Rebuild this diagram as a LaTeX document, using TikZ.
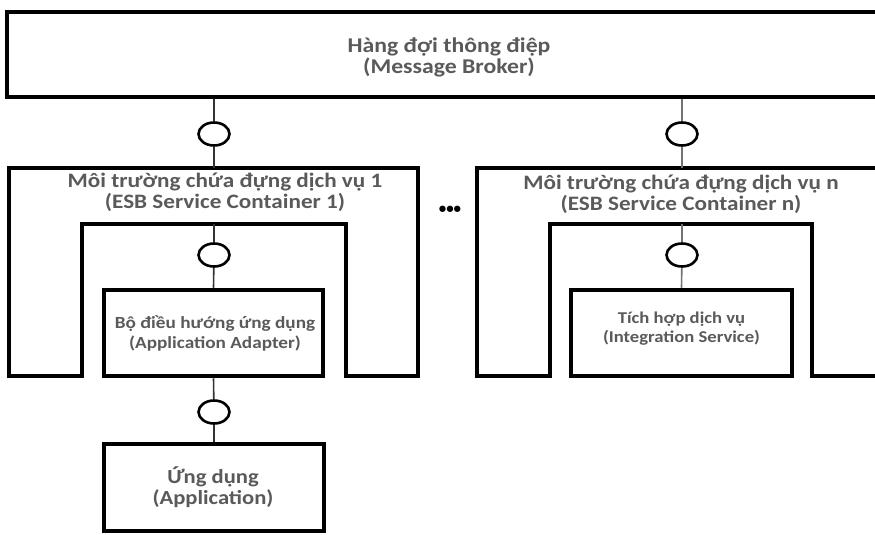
\documentclass[tikz,border=0pt]{standalone}
\usepackage{fontspec}
\setmainfont{Carlito}
\usetikzlibrary{shapes.geometric}
\definecolor{txt}{HTML}{5A5A5A}
\newcommand{\sx}[1]{\scalebox{1.13}[1]{#1}}
\tikzset{
  x=1pt, y=1pt,
  box/.style={draw=black, line width=4.5pt, fill=white, rectangle, inner sep=0pt},
  cont/.style={draw=black, line width=4.5pt, fill=white, line join=miter},
  ball/.style={ellipse, draw=black, line width=2.6pt, fill=white, minimum width=31pt, minimum height=23pt, inner sep=0pt},
  wire/.style={draw=black!80, line width=1.6pt},
  wiren/.style={draw=black!55, line width=1.6pt},
  lbl/.style={text=txt, align=center, font=\bfseries\fontsize{21}{21}\selectfont, inner sep=0pt},
  lblc/.style={lbl, font=\bfseries\fontsize{20.5}{21.5}\selectfont},
  lbls/.style={lbl, font=\bfseries\fontsize{17}{20}\selectfont},
  lbli/.style={lbl, font=\bfseries\fontsize{16.5}{19.5}\selectfont},
  lbla/.style={lbl, font=\bfseries\fontsize{20}{21}\selectfont},
}
\begin{document}
\begin{tikzpicture}
\useasboundingbox (0,0) rectangle (875,-535);
% broker
\node[box, minimum width=880pt, minimum height=85pt] (broker) at (447,-54.5) {};
\node[lbl] (brokert) at (449,-57.5) {\sx{Hàng đợi thông điệp}\\\sx{(Message Broker)}};
% container 1
\draw[cont] (9,-168) -- (418,-168) -- (418,-376) -- (346,-376) -- (346,-224) -- (82,-224) -- (82,-376) -- (9,-376) -- cycle;
\coordinate (c1top) at (214,-168);
\coordinate (c1in) at (214,-224);
\node[lblc] (c1t) at (225,-192.5) {\sx{Môi trường chứa đựng dịch vụ 1}\\\sx{(ESB Service Container 1)}};
% container n
\draw[cont] (895,-168) -- (477,-168) -- (477,-376) -- (550,-376) -- (550,-224) -- (812,-224) -- (812,-376) -- (895,-376);
\coordinate (cntop) at (682,-168);
\coordinate (cnin) at (682,-224);
\node[lblc] (cnt) at (681,-194.5) {\sx{Môi trường chứa đựng dịch vụ n}\\\sx{(ESB Service Container n)}};
% dots
\node[text=black, font=\bfseries\fontsize{15}{15}\selectfont, inner sep=0pt] (dots) at (450,-210) {•••};
% inner boxes
\node[box, minimum width=219pt, minimum height=86pt] (adapter) at (213.5,-333) {};
\node[lbls] (adaptert) at (215,-333) {\sx{Bộ điều hướng ứng dụng}\\\sx{(Application Adapter)}};
\node[box, minimum width=221pt, minimum height=86pt] (integ) at (681.5,-333) {};
\node[lbli] (integt) at (681.5,-328.5) {\sx{Tích hợp dịch vụ}\\\sx{(Integration Service)}};
\node[box, minimum width=220pt, minimum height=87pt] (app) at (214,-487.5) {};
\node[lbla] (appt) at (213,-487.5) {\sx{Ứng dụng}\\\sx{(Application)}};
% balls
\node[ball] (b1) at (214,-134) {};
\node[ball] (b2) at (214,-255) {};
\node[ball] (b3) at (214,-412) {};
\node[ball] (bn1) at (682,-134) {};
\node[ball] (bn2) at (682,-255) {};
% wires
\draw[wire] (broker.south -| b1) -- (b1);
\draw[wire] (b1) -- (c1top);
\draw[wire] (c1in) -- (b2);
\draw[wire] (b2) -- (adapter.north);
\draw[wire] (adapter.south) -- (b3);
\draw[wire] (b3) -- (app.north);
\draw[wiren] (broker.south -| bn1) -- (bn1);
\draw[wiren] (bn1) -- (cntop);
\draw[wiren] (cnin) -- (bn2);
\draw[wiren] (bn2) -- (integ.north);
\end{tikzpicture}
\end{document}
